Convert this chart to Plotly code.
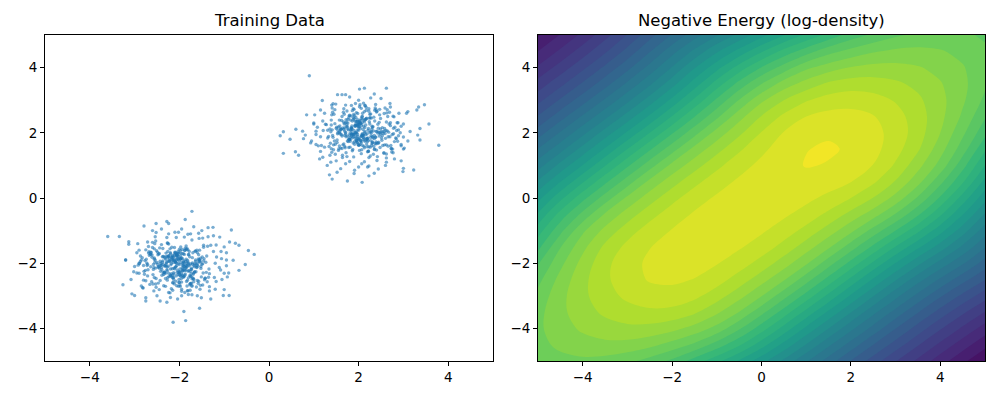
import plotly.graph_objects as go

# ---------------- data ----------------
tick_vals = [-4, -2, 0, 2, 4]
tick_text = ["\u22124", "\u22122", "0", "2", "4"]

cluster_a_x = [
    1.85,2.31,1.62,2.07,2.48,1.94,1.71,2.22,2.63,1.53,2.01,1.88,2.39,1.77,2.15,1.42,2.56,1.99,2.27,1.66,
    2.11,1.83,2.72,1.58,2.04,2.35,1.91,1.47,2.19,2.81,1.74,2.09,1.96,2.44,1.36,2.25,1.81,2.53,2.02,1.69,
    1.92,2.38,1.55,2.13,2.67,1.79,2.06,1.44,2.29,1.98,2.86,1.63,2.17,1.87,2.41,1.52,2.08,2.33,1.75,2.59,
    2.03,1.68,2.46,1.89,2.21,1.31,2.74,1.97,1.59,2.36,2.12,1.84,2.51,1.72,2.05,2.93,1.49,2.26,1.93,2.18,
    1.78,2.42,1.61,2.09,2.57,1.86,1.39,2.31,2.01,1.73,2.64,1.95,2.23,1.56,2.14,2.78,1.82,2.37,1.64,2.00,
    2.28,1.91,1.46,2.54,2.07,1.76,2.32,1.99,2.69,1.57,2.16,1.85,2.45,1.28,2.11,1.94,2.61,1.70,2.24,1.81,
    2.49,1.67,2.04,2.83,1.90,2.19,1.54,2.34,1.80,2.06,2.71,1.62,2.27,1.97,1.41,2.40,2.13,1.88,2.58,1.74,
    1.96,2.30,1.60,2.17,2.89,1.83,2.02,1.48,2.43,1.92,2.20,1.69,2.55,2.08,1.77,2.36,1.34,2.14,1.95,2.66,
    2.05,1.79,2.47,1.65,2.25,1.98,2.76,1.51,2.10,1.86,2.39,2.00,1.72,2.62,1.43,2.18,1.93,2.29,1.58,2.52,
    1.89,2.15,1.37,2.44,2.03,1.81,2.68,1.63,2.22,1.95,2.50,1.75,2.09,2.35,1.55,1.99,2.79,1.84,2.26,1.67,
    2.12,1.97,2.57,1.45,2.32,1.87,2.06,1.71,2.41,2.95,1.60,2.19,1.90,2.48,1.78,2.01,1.33,2.37,2.14,1.82,
    2.60,1.73,2.08,1.94,2.45,1.52,2.24,2.73,1.85,2.11,1.66,2.30,1.99,1.40,2.53,2.04,1.80,2.20,2.85,1.57,
    1.93,2.34,1.70,2.16,2.64,1.88,1.50,2.27,2.02,1.76,2.43,1.96,2.58,1.63,2.10,2.39,1.84,2.23,1.47,2.07,
    2.31,1.86,2.70,1.61,2.13,1.98,2.49,1.74,2.05,1.38,2.28,1.91,2.62,2.00,1.69,2.17,1.83,2.46,1.54,2.36,
    1.97,2.21,1.79,2.54,1.65,2.09,2.80,1.89,2.33,1.44,2.01,1.75,2.40,2.15,1.92,2.66,1.58,2.26,1.81,2.04,
    0.90,2.62,2.13,2.02,0.25,0.32,0.47,0.60,0.32,0.59,0.66,0.77,0.81,3.79,3.57,3.47,3.34,3.37,3.37,3.32,
    3.23,2.99,3.00,2.08,1.75,1.41,1.35,2.23,2.35,3.30,3.10,0.84,1.19,1.53,1.63,2.35,
    1.00,1.10,1.05,1.15,2.90,3.00,2.95,2.50,1.80,1.30,1.60,2.60,2.80,1.20,2.70,1.40,3.10,0.95,2.20,1.90,
    2.75,2.89,3.00,2.71,2.77,2.49,2.59,2.39,2.23,2.14,2.00,1.88,1.71,1.68,1.41,1.40,1.39,1.20,1.00,1.21,
    1.05,1.31,1.05,1.24,1.39,1.36,1.38,1.64,1.71,1.89,2.00,2.13,2.23,2.41,2.62,2.57,2.77,2.62,2.95,2.84,
    3.15,2.78,2.88,3.07,2.65,2.71,2.47,2.38,2.27,2.06,1.93,1.71,1.67,1.43,1.42,1.24,1.02,1.26,1.08,0.75,
    1.15,0.93,1.17,1.15,1.13,1.48,1.50,1.52,1.80,1.91,2.07,2.23,2.44,2.42,2.62,2.95,2.73,3.02,2.87,3.00,
    1.95,2.12,1.83,2.21,2.04,1.88,2.16,1.97,2.29,1.76,2.08,1.91,2.35,1.69,2.02,2.18,1.86,2.25,1.99,2.10,
    1.80,2.31,1.93,2.06,1.72,2.14,2.38,1.85,2.00,2.22,1.90,2.07,1.78,2.27,2.03,1.95,2.19,1.84,2.11,1.98,
]
cluster_a_y = [
    2.14,1.72,2.38,1.89,1.55,2.26,2.01,1.43,2.61,1.97,1.80,2.47,1.66,2.09,2.83,1.92,1.38,2.20,1.76,2.33,
    1.85,2.52,1.61,2.04,2.29,1.49,1.95,2.71,1.83,2.17,1.27,2.42,1.99,1.68,2.12,2.57,1.74,1.91,2.36,1.58,
    2.23,1.87,1.46,2.65,2.02,1.79,2.44,1.63,2.10,1.94,2.31,1.52,2.78,1.86,2.05,1.70,2.49,1.34,2.18,1.98,
    1.64,2.27,1.90,2.56,1.77,2.08,1.41,2.35,1.96,2.69,1.59,2.15,1.84,2.40,1.73,2.00,2.88,1.56,2.21,1.81,
    2.46,1.69,2.11,1.93,2.59,1.45,2.24,1.88,1.62,2.32,2.06,1.78,2.74,1.51,2.16,1.97,2.39,1.67,1.31,2.28,
    1.92,2.53,1.75,2.03,1.48,2.30,2.19,1.82,2.63,1.60,2.41,1.95,1.71,2.25,2.91,1.87,2.07,1.54,2.45,1.99,
    2.12,1.66,2.37,1.84,2.72,1.57,2.00,2.48,1.79,1.36,2.22,1.94,2.58,1.70,2.09,1.47,2.34,1.89,2.13,2.67,
    1.76,2.20,1.53,2.43,1.91,2.06,2.80,1.65,2.26,1.83,1.42,2.15,1.98,2.51,1.73,2.36,1.58,2.04,2.62,1.88,
    2.29,1.80,2.55,1.63,2.01,2.40,1.50,2.17,1.93,2.68,1.72,2.08,1.39,2.33,1.86,2.45,1.99,1.61,2.21,1.77,
    1.95,2.42,1.68,2.14,2.86,1.56,2.27,1.90,1.44,2.35,2.03,1.75,2.60,1.82,2.18,1.64,2.49,1.96,1.29,2.11,
    2.38,1.71,2.05,2.57,1.85,1.49,2.23,1.97,2.66,1.60,2.12,1.81,2.44,2.00,1.55,2.31,1.89,2.76,1.74,2.09,
    1.83,2.19,1.62,2.47,2.02,1.78,2.34,1.52,2.10,1.93,2.63,1.67,2.25,1.40,2.16,1.87,2.54,1.73,2.07,2.39,
    2.01,1.58,2.30,1.94,2.71,1.69,2.13,1.86,1.46,2.41,1.99,2.22,1.63,2.50,1.79,2.04,2.84,1.57,2.28,1.91,
    1.70,2.36,1.88,2.11,1.54,2.59,1.96,2.24,1.76,2.03,2.45,1.65,1.35,2.18,1.92,2.69,1.81,2.32,2.08,1.50,
    2.26,1.84,2.52,1.61,2.15,1.98,1.73,2.40,2.06,1.48,2.33,1.90,2.64,1.77,2.20,1.59,2.00,2.47,1.86,2.13,
    3.75,3.37,3.37,3.34,1.91,2.03,1.80,2.11,1.37,1.42,1.31,1.82,1.93,1.62,2.27,2.86,2.79,2.13,1.78,1.93,
    0.86,0.81,0.91,0.48,0.52,0.58,0.71,0.68,0.76,2.70,2.65,2.55,2.99,3.17,3.17,3.19,
    2.30,1.60,2.05,2.70,2.60,1.50,2.20,3.05,3.10,1.00,0.90,1.00,1.20,1.25,2.90,2.85,1.75,1.75,0.95,0.75,
    1.95,2.09,2.27,2.31,2.51,2.44,2.76,2.71,2.66,2.84,3.00,2.74,2.85,2.57,2.76,2.55,2.39,2.36,2.27,2.07,
    1.95,1.84,1.64,1.56,1.51,1.31,1.10,1.24,1.05,1.26,0.95,1.11,1.24,1.15,1.10,1.38,1.39,1.63,1.64,1.82,
    2.04,2.14,2.31,2.60,2.50,2.79,2.72,2.87,3.07,2.75,2.90,3.17,2.74,2.89,2.63,2.60,2.55,2.26,2.17,2.05,
    1.88,1.69,1.61,1.43,1.20,1.34,1.14,0.79,1.12,0.85,1.05,0.98,0.89,1.27,1.23,1.14,1.51,1.53,1.74,1.87,
    2.02,1.84,2.15,2.08,1.77,1.96,2.24,1.89,2.01,2.12,2.31,1.73,1.92,2.05,2.18,1.66,1.99,2.27,1.81,2.10,
    1.93,2.16,2.35,1.70,1.88,2.00,1.86,2.21,1.62,2.13,2.07,1.94,1.80,2.03,2.26,1.75,1.97,1.90,2.20,2.09,
]
cluster_b_x = [
    -2.12,-1.69,-2.41,-1.88,-2.27,-1.53,-2.05,-2.64,-1.77,-2.18,-1.46,-2.33,-1.95,-2.52,-1.62,-2.09,-1.81,-2.73,-1.99,-2.24,
    -1.74,-2.37,-1.92,-2.58,-1.49,-2.15,-2.01,-1.66,-2.45,-1.85,-2.81,-1.58,-2.20,-1.97,-2.30,-1.41,-2.08,-2.67,-1.79,-2.13,
    -2.49,-1.83,-2.02,-1.57,-2.36,-1.94,-2.71,-1.68,-2.17,-1.34,-2.26,-1.90,-2.55,-1.75,-2.06,-2.42,-1.61,-2.11,-1.87,-2.85,
    -1.96,-2.29,-1.52,-2.62,-2.04,-1.80,-2.39,-1.45,-2.21,-1.98,-2.76,-1.64,-2.14,-1.89,-2.47,-1.72,-2.00,-2.34,-1.56,-2.19,
    -2.57,-1.76,-2.10,-1.93,-2.43,-1.37,-2.23,-1.84,-2.68,-1.60,-2.03,-2.31,-1.71,-2.52,-1.91,-2.16,-1.48,-2.40,-2.07,-1.82,
    -2.25,-1.63,-2.89,-2.00,-1.78,-2.35,-1.54,-2.12,-1.95,-2.61,-1.86,-2.44,-1.43,-2.09,-2.28,-1.70,-2.53,-1.97,-2.18,-1.59,
    -1.90,-2.46,-1.67,-2.22,-2.75,-1.81,-2.05,-1.50,-2.38,-1.99,-2.14,-1.73,-2.60,-1.88,-2.32,-1.39,-2.01,-2.50,-1.65,-2.27,
    -2.08,-1.84,-2.56,-1.61,-2.19,-1.94,-2.42,-1.76,-2.03,-2.79,-1.55,-2.26,-1.92,-2.15,-1.47,-2.37,-1.83,-2.64,-2.11,-1.69,
    -2.33,-1.98,-1.58,-2.48,-2.06,-1.74,-2.21,-2.70,-1.89,-1.44,-2.13,-2.40,-1.80,-2.02,-2.59,-1.66,-2.30,-1.95,-2.17,-1.52,
    -1.86,-2.24,-2.63,-1.70,-2.00,-2.36,-1.62,-2.11,-1.93,-2.51,-1.77,-2.07,-2.83,-1.57,-2.20,-1.99,-2.45,-1.85,-1.35,-2.28,
    -2.15,-1.79,-2.39,-1.96,-2.66,-1.53,-2.09,-1.87,-2.31,-1.71,-2.54,-2.02,-1.60,-2.18,-1.91,-2.44,-1.75,-2.23,-2.92,-1.82,
    -2.01,-2.58,-1.68,-2.26,-1.90,-2.12,-1.46,-2.35,-2.04,-1.81,-2.69,-1.63,-2.16,-1.97,-2.47,-1.73,-2.08,-1.40,-2.29,-1.94,
    -2.41,-1.72,-2.06,-2.53,-1.84,-2.19,-1.59,-2.32,-1.98,-2.77,-1.66,-2.10,-1.89,-2.43,-1.55,-2.24,-2.00,-1.78,-2.61,-2.14,
    -1.88,-2.30,-1.51,-2.17,-2.72,-1.95,-2.05,-1.69,-2.38,-1.83,-2.20,-1.42,-2.56,-1.92,-2.11,-2.65,-1.76,-2.27,-1.61,-2.03,
    -2.22,-1.97,-2.49,-1.64,-2.13,-1.86,-2.34,-1.74,-2.87,-2.01,-1.57,-2.25,-1.93,-2.60,-1.80,-2.07,-1.48,-2.37,-1.99,-2.16,
    -1.72,-3.60,-3.34,-3.26,-3.06,-3.00,-0.33,-0.46,-0.53,-0.67,-0.84,-2.14,-1.86,-1.90,-1.55,-2.28,-2.52,-2.79,-1.87,-1.25,
    -1.36,-0.89,-1.02,-2.75,-2.75,-2.28,-0.75,-0.67,-3.13,-3.13,-3.08,
    -2.90,-3.00,-2.95,-1.00,-1.05,-0.95,-1.20,-2.50,-1.60,-2.60,-1.50,-2.10,-1.10,-2.85,-3.20,-1.30,-0.90,-2.40,-1.75,-2.20,
    -1.20,-1.06,-0.95,-1.24,-1.18,-1.46,-1.36,-1.56,-1.72,-1.81,-1.95,-2.07,-2.24,-2.27,-2.54,-2.55,-2.56,-2.75,-2.95,-2.74,
    -2.90,-2.64,-2.90,-2.71,-2.56,-2.59,-2.57,-2.31,-2.24,-2.06,-1.95,-1.82,-1.72,-1.54,-1.33,-1.38,-1.18,-1.33,-1.00,-1.11,
    -0.80,-1.17,-1.07,-0.88,-1.30,-1.24,-1.48,-1.57,-1.68,-1.89,-2.02,-2.24,-2.28,-2.52,-2.53,-2.71,-2.93,-2.69,-2.87,-3.20,
    -2.80,-3.02,-2.78,-2.80,-2.82,-2.47,-2.45,-2.43,-2.15,-2.04,-1.88,-1.72,-1.51,-1.53,-1.33,-1.00,-1.22,-0.93,-1.08,-0.95,
    -1.90,-2.08,-1.77,-2.16,-1.99,-1.83,-2.11,-1.92,-2.24,-1.71,-2.03,-1.86,-2.30,-1.64,-1.97,-2.13,-1.81,-2.20,-1.94,-2.05,
    -1.75,-2.26,-1.88,-2.01,-1.67,-2.09,-2.33,-1.80,-1.95,-2.17,-1.85,-2.02,-1.73,-2.22,-1.98,-1.90,-2.14,-1.79,-2.06,-1.93,
]
cluster_b_y = [
    -1.88,-2.34,-2.07,-1.61,-2.52,-1.96,-2.21,-1.73,-2.66,-2.01,-1.45,-2.29,-1.84,-2.47,-2.12,-1.67,-2.85,-1.99,-2.38,-1.78,
    -2.19,-1.55,-2.43,-2.04,-1.81,-2.60,-1.92,-2.27,-1.70,-2.14,-2.76,-1.87,-2.36,-1.50,-2.09,-1.97,-2.55,-1.76,-2.23,-2.44,
    -1.66,-2.11,-2.71,-1.93,-2.30,-1.58,-2.03,-2.49,-1.83,-2.18,-1.39,-2.40,-1.98,-2.62,-1.74,-2.25,-2.06,-1.52,-2.33,-1.90,
    -2.48,-1.79,-2.16,-2.57,-1.69,-2.00,-2.37,-1.86,-2.91,-1.62,-2.22,-1.95,-2.45,-1.73,-2.10,-2.68,-1.57,-2.28,-1.89,-2.05,
    -2.13,-2.63,-1.77,-2.24,-1.94,-1.48,-2.41,-2.08,-1.65,-2.53,-1.85,-2.31,-1.99,-2.74,-1.71,-2.17,-2.02,-1.43,-2.39,-1.91,
    -1.82,-2.26,-2.01,-2.59,-1.64,-2.35,-1.90,-2.15,-2.80,-1.75,-2.06,-1.53,-2.46,-1.97,-2.20,-1.68,-2.64,-1.87,-2.32,-2.09,
    -2.42,-1.72,-2.11,-1.95,-2.54,-1.59,-2.28,-2.03,-1.80,-2.67,-1.91,-2.19,-1.36,-2.37,-2.07,-1.78,-2.50,-1.98,-1.63,-2.23,
    -1.97,-2.56,-1.84,-2.13,-2.39,-1.70,-2.00,-2.83,-1.89,-2.25,-1.60,-2.44,-2.05,-1.76,-2.30,-1.93,-2.70,-1.66,-2.17,-2.48,
    -2.27,-1.86,-2.62,-1.74,-2.08,-2.41,-1.56,-2.20,-1.99,-2.51,-1.81,-2.14,-2.96,-1.69,-2.35,-2.02,-1.88,-2.58,-1.51,-2.10,
    -1.94,-2.31,-1.67,-2.45,-2.04,-1.79,-2.73,-1.92,-2.18,-1.62,-2.38,-2.00,-1.83,-2.55,-1.71,-2.26,-2.09,-1.47,-2.43,-1.96,
    -2.36,-1.73,-2.21,-1.98,-2.65,-1.85,-2.12,-1.54,-2.47,-2.03,-1.90,-2.29,-1.68,-2.78,-1.96,-2.16,-2.40,-1.77,-2.06,-2.52,
    -1.80,-2.19,-2.57,-1.64,-2.10,-2.33,-1.93,-2.69,-1.75,-2.24,-1.49,-2.02,-2.44,-1.87,-2.13,-2.61,-1.70,-2.28,-1.99,-2.37,
    -2.05,-2.48,-1.78,-2.15,-1.58,-2.39,-2.01,-1.84,-2.71,-1.92,-2.27,-1.66,-2.11,-2.53,-1.95,-1.41,-2.34,-2.08,-1.82,-2.60,
    -2.22,-1.69,-2.42,-1.91,-2.07,-2.86,-1.76,-2.30,-1.97,-1.55,-2.18,-2.46,-1.88,-2.00,-2.64,-1.72,-2.25,-2.12,-1.60,-2.35,
    -1.86,-2.40,-2.03,-1.63,-2.50,-2.14,-1.81,-2.32,-1.95,-2.59,-1.74,-2.09,-2.23,-1.52,-2.45,-1.90,-2.67,-2.04,-2.29,-1.79,
    -0.41,-1.18,-1.18,-2.66,-2.94,-2.99,-1.73,-1.61,-2.04,-2.22,-0.98,-3.81,-3.76,-3.48,-3.38,-0.72,-0.78,-0.86,-0.66,-0.90,
    -0.91,-2.99,-2.99,-3.16,-3.06,-3.20,-1.39,-1.45,-1.34,-1.42,-2.50,
    -1.60,-2.10,-2.30,-1.50,-2.50,-1.90,-2.80,-3.00,-3.00,-1.00,-1.00,-1.05,-1.20,-2.70,-1.90,-3.10,-2.30,-0.95,-1.10,-3.05,
    -2.00,-1.86,-1.68,-1.64,-1.44,-1.51,-1.19,-1.24,-1.29,-1.11,-0.95,-1.21,-1.10,-1.38,-1.19,-1.40,-1.56,-1.59,-1.68,-1.88,
    -2.00,-2.11,-2.31,-2.39,-2.44,-2.64,-2.85,-2.71,-2.90,-2.69,-3.00,-2.84,-2.71,-2.80,-2.85,-2.57,-2.56,-2.32,-2.31,-2.13,
    -1.91,-1.81,-1.64,-1.35,-1.45,-1.16,-1.23,-1.08,-0.88,-1.20,-1.05,-0.78,-1.21,-1.06,-1.32,-1.35,-1.40,-1.69,-1.78,-1.90,
    -2.07,-2.26,-2.34,-2.52,-2.75,-2.61,-2.81,-3.16,-2.83,-3.10,-2.90,-2.97,-3.06,-2.68,-2.72,-2.81,-2.44,-2.42,-2.21,-2.08,
    -1.93,-2.11,-1.80,-1.87,-2.18,-2.01,-1.71,-2.06,-1.94,-1.83,-1.64,-2.22,-2.03,-1.90,-1.77,-2.29,-1.96,-1.68,-2.14,-1.85,
    -2.02,-1.79,-1.60,-2.25,-2.07,-1.95,-2.09,-1.74,-2.33,-1.82,-1.88,-2.01,-2.15,-1.92,-1.69,-2.20,-1.98,-2.05,-1.75,-1.86,
]

grid_x = [-5,-4.5,-4,-3.5,-3,-2.5,-2,-1.5,-1,-0.5,0,0.5,1,1.5,2,2.5,3,3.5,4,4.5,5]
grid_y = [-5,-4.5,-4,-3.5,-3,-2.5,-2,-1.5,-1,-0.5,0,0.5,1,1.5,2,2.5,3,3.5,4,4.5,5]
# negative energy (arbitrary units, x1000), rows = grid_y, cols = grid_x
neg_energy = [
    [785,794,798,793,779,756,727,685,641,591,538,482,424,369,313,263,212,167,120,79,36],
    [794,813,825,831,828,815,792,763,720,671,611,549,488,427,371,315,265,213,167,121,81],
    [798,825,846,860,867,864,851,827,793,740,682,617,552,490,429,373,316,265,214,169,124],
    [794,831,860,882,896,903,899,881,847,804,746,685,619,554,492,430,373,317,267,217,174],
    [781,829,867,896,918,931,933,919,892,853,807,748,687,621,555,492,431,375,320,272,225],
    [759,817,865,903,931,948,951,944,925,895,855,809,750,688,621,556,494,434,380,328,282],
    [732,795,853,900,933,951,959,957,947,927,897,857,810,750,689,623,559,499,442,390,334],
    [690,768,830,883,920,944,957,962,959,949,929,898,857,811,752,692,628,567,509,448,388],
    [648,725,798,850,894,926,947,959,964,961,950,929,899,859,814,757,700,638,573,507,437],
    [600,678,745,809,856,897,928,949,961,965,961,951,931,902,864,822,767,706,636,562,487],
    [548,620,689,751,812,858,899,930,950,961,966,963,954,936,910,874,828,765,695,616,537],
    [495,559,626,692,753,814,860,900,930,951,963,969,968,962,946,916,872,817,745,670,584],
    [439,501,562,628,694,755,815,860,901,932,954,968,982,978,968,944,905,852,792,713,630],
    [386,442,503,564,630,695,755,816,862,904,937,962,979,984,976,957,924,880,820,752,671],
    [332,388,444,505,565,630,696,757,819,867,912,947,968,976,972,956,932,892,840,778,711],
    [283,334,390,445,505,566,632,699,762,827,877,918,945,957,956,947,924,892,850,799,739],
    [234,285,335,390,446,507,569,637,707,772,833,875,907,925,932,924,907,882,851,811,762],
    [190,235,285,336,392,449,512,577,647,713,770,822,855,882,893,892,882,866,843,814,776],
    [145,190,236,287,339,397,457,522,583,645,702,750,797,823,842,851,851,843,829,808,780],
    [105,146,192,239,292,347,407,463,520,572,625,677,718,757,781,801,812,814,808,795,776],
    [66,107,149,197,247,302,353,405,452,500,547,593,637,676,716,742,764,777,780,776,765],
]

# ---------------- figure ----------------
fig = go.Figure()

fig.add_trace(go.Scatter(
    x=cluster_a_x + cluster_b_x, y=cluster_a_y + cluster_b_y,
    mode="markers", xaxis="x", yaxis="y",
    marker=dict(color="#1f77b4", size=3.4, opacity=0.6, line=dict(width=0)),
    hoverinfo="skip", showlegend=False,
))

fig.add_trace(go.Contour(
    x=grid_x, y=grid_y, z=neg_energy, xaxis="x2", yaxis="y2",
    colorscale="Viridis", showscale=False,
    zmin=0, zmax=1015, zauto=False,
    contours=dict(start=0, end=1015, size=35, coloring="fill", showlines=False),
    line=dict(width=0, smoothing=1.0),
    hoverinfo="skip",
))

axis_common = dict(
    range=[-5, 5], showgrid=False, zeroline=False,
    showline=True, mirror=True, linecolor="black", linewidth=1,
    ticks="outside", ticklen=4, tickwidth=1, tickcolor="black",
    tickvals=tick_vals, ticktext=tick_text,
    tickfont=dict(family="DejaVu Sans", size=13.5, color="black"),
)
ydom = [0.0975, 0.9125]
fig.update_layout(
    width=1000, height=400,
    margin=dict(l=0, r=0, t=0, b=0),
    paper_bgcolor="white", plot_bgcolor="white",
    xaxis=dict(domain=[0.045, 0.493], anchor="y", **axis_common),
    yaxis=dict(domain=ydom, anchor="x", **axis_common),
    xaxis2=dict(domain=[0.538, 0.985], anchor="y2", **axis_common),
    yaxis2=dict(domain=ydom, anchor="x2", **axis_common),
    annotations=[
        dict(text="Training Data", x=0.269, y=0.9125, xref="paper", yref="paper",
             xanchor="center", yanchor="bottom", yshift=3, showarrow=False,
             font=dict(family="DejaVu Sans", size=16.5, color="black")),
        dict(text="Negative Energy (log-density)", x=0.7615, y=0.9125, xref="paper", yref="paper",
             xanchor="center", yanchor="bottom", yshift=3, showarrow=False,
             font=dict(family="DejaVu Sans", size=16.5, color="black")),
    ],
)

fig.write_html("out.html")
